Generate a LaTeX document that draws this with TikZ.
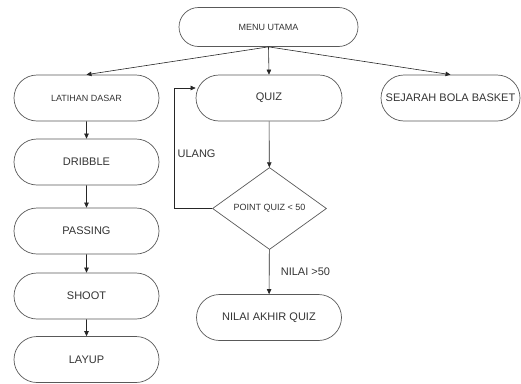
\documentclass[tikz,border=0pt]{standalone}
\usepackage{fontspec}
\setmainfont{Liberation Sans}
\usepackage{tikz}
\usetikzlibrary{shapes.misc,shapes.geometric,arrows.meta}
\tikzstyle{box} = [draw=black!65,line width=0.7pt,rounded rectangle,minimum width=145pt,minimum height=46pt,inner sep=0pt,text=black!80,font=\fontsize{11}{13}\selectfont]
\tikzstyle{small} = [font=\fontsize{9}{11}\selectfont]
\tikzstyle{cond} = [draw=black!65,line width=0.7pt,diamond,minimum width=114pt,minimum height=82pt,inner sep=0pt,text=black!80,font=\fontsize{9}{11}\selectfont]
\tikzstyle{flow} = [-{Triangle[length=5pt,width=4.5pt]},draw=black!85,line width=0.6pt]

\begin{document}
\begin{tikzpicture}[x=1pt,y=-1pt]
    \useasboundingbox (0,0) rectangle (521,383);

    \node[box,small,minimum width=179pt,minimum height=39pt] (menu) at (268.5,27) {MENU UTAMA};
    \node[box,small] (latihan) at (86.5,98) {LATIHAN DASAR};
    \node[box,minimum width=146pt] (quiz) at (269,98) {QUIZ};
    \node[box,minimum width=139pt] (sejarah) at (450.5,98) {SEJARAH BOLA BASKET};

    \node[box] (dribble) at (86.5,162) {DRIBBLE};
    \node[box] (passing) at (86.5,231) {PASSING};
    \node[box] (shoot) at (86.5,296) {SHOOT};
    \node[box] (layup) at (86.5,359.5) {LAYUP};

    \node[cond] (point) at (269.5,208.5) {POINT QUIZ < 50};
    \node[box] (nilai) at (269,317.5) {NILAI AKHIR QUIZ};
    \coordinate (ulang) at (174,88);

    \draw[flow] (menu.south) -- (latihan.north);
    \draw[flow] (menu.south) -- (quiz.north);
    \draw[flow] (menu.south) -- (sejarah.north);

    \draw[flow] (latihan) -- (dribble);
    \draw[flow] (dribble) -- (passing);
    \draw[flow] (passing) -- (shoot);
    \draw[flow] (shoot) -- (layup);

    \draw[flow] (quiz) -- (point);
    \draw[flow] (point) -- node[midway,right=8pt,text=black!80,font=\fontsize{11}{13}\selectfont] {NILAI >50} (nilai);
    \draw[flow] (point.west) -| node[pos=0.726,right,text=black!80,font=\fontsize{11}{13}\selectfont] {ULANG} (ulang) -- (ulang -| quiz.west);

\end{tikzpicture}
\end{document}
